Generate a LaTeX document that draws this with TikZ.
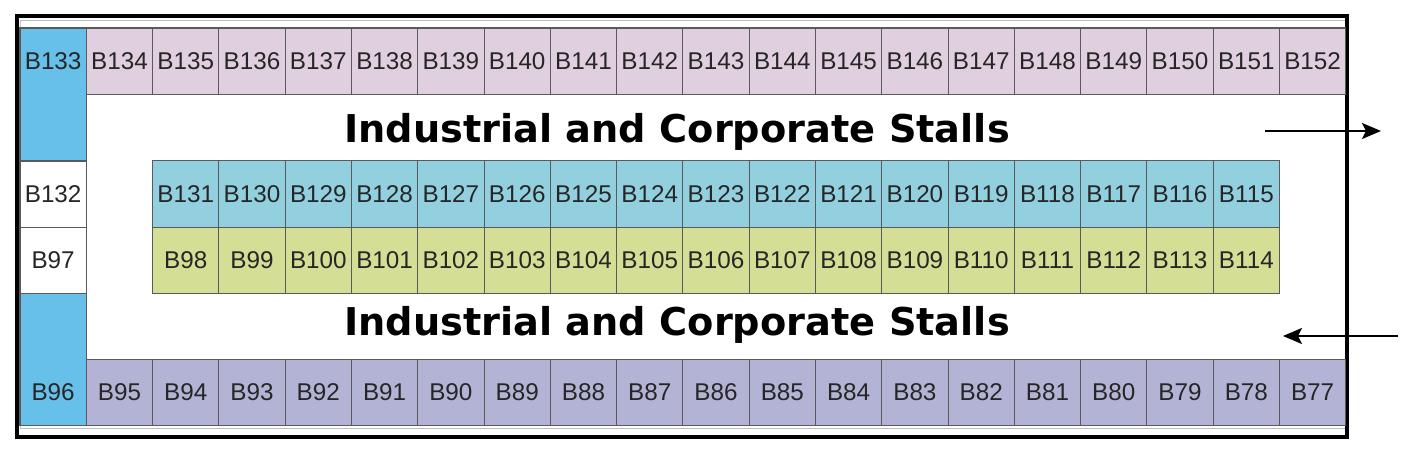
\documentclass[tikz,border=0pt]{standalone}
\usepackage{fontspec}
\setmainfont{Liberation Sans}
\newfontfamily\hallfont{DejaVu Sans}
\usetikzlibrary{positioning,arrows.meta}

\definecolor{toprow}{HTML}{E0CFDE}
\definecolor{endcol}{HTML}{66C0EA}
\definecolor{midrow}{HTML}{92D0E0}
\definecolor{lowrow}{HTML}{D4DE94}
\definecolor{botrow}{HTML}{B3B3D5}
\definecolor{cellline}{HTML}{5A5A5A}

\begin{document}
\begin{tikzpicture}[x=0.02cm, y=-0.02cm, node distance=1.326cm, on grid,
    stall/.style={draw=cellline, line width=0.6pt, minimum width=1.326cm,
      minimum height=1.326cm, inner sep=0pt, outer sep=0pt,
      font=\fontsize{13.8}{16}\selectfont, text=black!85},
    tallstall/.style={stall, minimum height=2.652cm},
    hall/.style={font=\hallfont\bfseries\fontsize{21.8}{26}\selectfont, inner sep=0pt},
    flow/.style={-{Stealth[length=0.38cm, width=0.32cm, inset=0.08cm]}, line width=1.1pt}]
    \useasboundingbox (0,0) rectangle (1418,456);

    % hall outline
    \draw[black!25, line width=0.5pt] (20,20) rectangle (1345,428);
    \draw[line width=2.2pt] (17,16) rectangle (1347,437);

    % left end column
    \node[tallstall, fill=endcol, anchor=north west] (b133) at (20,28) {};
    \node[stall, fill=white, anchor=north west] (b132) at (20,161) {B132};
    \node[stall, fill=white, anchor=north west] (b97) at (20,227.3) {B97};
    \node[tallstall, fill=endcol, anchor=north west] (b96) at (20,293.2) {};

    % top row
    \node[stall, fill=toprow] (b134) at (119.45,61.15) {B134};
    \foreach \n [remember=\n as \p (initially 134)] in {135,...,152}
      \node[stall, fill=toprow, right=of b\p] (b\n) {B\n};

    % middle rows
    \node[stall, fill=midrow] (b131) at (185.75,194.1) {B131};
    \foreach \n [remember=\n as \p (initially 131)] in {130,129,...,115}
      \node[stall, fill=midrow, right=of b\p] (b\n) {B\n};
    \node[stall, fill=lowrow] (b98) at (185.75,260.4) {B98};
    \foreach \n [remember=\n as \p (initially 98)] in {99,...,114}
      \node[stall, fill=lowrow, right=of b\p] (b\n) {B\n};

    % bottom row
    \node[stall, fill=botrow] (b95) at (119.45,392.65) {B95};
    \foreach \n [remember=\n as \p (initially 95)] in {94,93,...,77}
      \node[stall, fill=botrow, right=of b\p] (b\n) {B\n};

    % labels of the tall end stalls
    \node[font=\fontsize{13.8}{16}\selectfont, text=black!85] (b133t) at (b133 |- b134) {B133};
    \node[font=\fontsize{13.8}{16}\selectfont, text=black!85] (b96t) at (b96 |- b95) {B96};

    % aisles
    \node[hall, anchor=base] (hallup) at (677,143) {Industrial and Corporate Stalls};
    \node[hall, anchor=base] (halldown) at (677,336) {Industrial and Corporate Stalls};

    \coordinate (inA) at (1265,131);
    \coordinate (inB) at (1381,131);
    \coordinate (outA) at (1398,336);
    \coordinate (outB) at (1283,336);
    \draw[flow] (inA) -- (inB);
    \draw[flow] (outA) -- (outB);
\end{tikzpicture}
\end{document}
